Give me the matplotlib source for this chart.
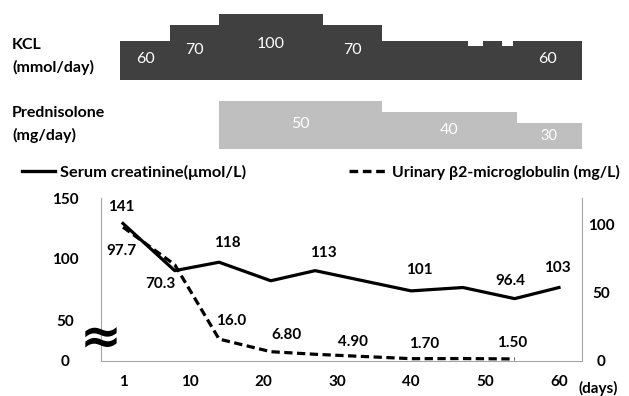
import numpy as np
import matplotlib
matplotlib.use('Agg')
import matplotlib.pyplot as plt
from matplotlib.lines import Line2D

plt.rcParams['font.family'] = ['Lato', 'DejaVu Sans']

# ---- данные ----
# KCL (mmol/day): начало каждого участка (дни) и доза
kcl_start = [0.6, 7.4, 14, 28, 36, 47.7, 49.7, 52.3, 53.8]
kcl_end = 63.1
kcl_dose = [60, 70, 100, 70, 60, 50, 60, 50, 60]
kcl_text = ['60', '70', '100', '70', '', '', '', '', '60']

# Prednisolone (mg/day)
pred_start = [14, 36, 54.3]
pred_end = 63.1
pred_dose = [50, 40, 30]
pred_text = ['50', '40', '30']

# креатинин сыворотки (umol/L)
cr_days = [1, 8, 14, 21, 27, 40, 47, 54, 60]
cr_vals = [141, 113, 118, 107, 113, 101, 103, 96.4, 103]
cr_text = ['141', '', '118', '', '113', '101', '', '96.4', '103']

# бета2-микроглобулин в моче (mg/L)
b2_days = [1, 8, 14, 21, 27, 40, 47, 54]
b2_vals = [97.7, 70.3, 16.0, 6.80, 4.90, 1.70, 1.8, 1.50]
b2_text = ['97.7', '70.3', '16.0', '6.80', '4.90', '1.70', '', '1.50']

x_ticks = [1, 10, 20, 30, 40, 50, 60]
left_ticks = [0, 50, 100, 150]
right_ticks = [0, 50, 100]

# смещения подписей (pt)
cr_off = [(-1, 12), (0, 0), (6, 14), (0, 0), (6, 13), (6, 15), (0, 0), (-3, 13), (-1, 14)]
b2_off = [(-1, -17), (-10, -14), (9, 13), (11, 12), (27, 9), (9, 10.5), (0, 0), (-2, 11.5)]

W, H = 629, 396
fig = plt.figure(figsize=(W / 100, H / 100), dpi=100)


def rect(x0, y0, x1, y1):
    # пиксели картинки -> доли фигуры
    return [x0 / W, 1 - y1 / H, (x1 - x0) / W, (y1 - y0) / H]


XLIM = (1 - 22 / 7.39, 60 + 23 / 7.39)
DARK = '#404040'
LIGHT = '#bfbfbf'
SPINE = '#a6a6a6'
B2_PX = 1.37  # пикселей на 1 mg/L

# ---- верх: ступеньки KCL ----
ax_k = fig.add_axes(rect(101, 10, 582, 80))
kx = [-100, 0, 50, 60, 70, 100, 200]
ky = [-100, 0, 34, 39, 55, 66, 166]
ax_k.set_yscale('function', functions=(lambda v: np.interp(v, kx, ky),
                                       lambda p: np.interp(p, ky, kx)))
ax_k.fill_between(kcl_start + [kcl_end], kcl_dose + [kcl_dose[-1]], 0,
                  step='post', color=DARK, linewidth=0)
ax_k.set_xlim(XLIM)
ax_k.set_ylim(0, 104)
for s, e, d, t in zip(kcl_start, kcl_start[1:] + [kcl_end], kcl_dose, kcl_text):
    if t:
        ymid = np.interp(np.interp(d, kx, ky) * 0.55, ky, kx)
        ax_k.text((s + e) / 2, ymid, t, color='white', fontsize=11.5,
                  ha='center', va='center')
ax_k.axis('off')

# ---- верх: преднизолон ----
ax_p = fig.add_axes(rect(101, 95, 582, 148))
ax_p.fill_between(pred_start + [pred_end], pred_dose + [pred_dose[-1]], 0,
                  step='post', color=LIGHT, linewidth=0)
ax_p.set_xlim(XLIM)
ax_p.set_ylim(8 / 1.1, 61 / 1.1)
for s, e, d, t, fs in zip(pred_start, pred_start[1:] + [pred_end], pred_dose, pred_text, [11.5, 11.5, 10.5]):
    ax_p.text((s + e) / 2, 8 / 1.1 + (d - 8 / 1.1) * 0.5, t, color='white',
              fontsize=fs, ha='center', va='center')
ax_p.axis('off')

fig.text(12 / W, 1 - 45 / H, 'KCL', fontsize=11.5, fontweight='bold', va='center')
fig.text(12 / W, 1 - 67 / H, '(mmol/day)', fontsize=11.5, fontweight='bold', va='center')
fig.text(12 / W, 1 - 113 / H, 'Prednisolone', fontsize=11.5, fontweight='bold', va='center')
fig.text(12 / W, 1 - 135 / H, '(mg/day)', fontsize=11.5, fontweight='bold', va='center')

# ---- низ: оси ----
ax = fig.add_axes(rect(101, 198, 582, 361))
lx = [-100, 0, 50, 100, 150, 300]
ly = [-100, 0, 41, 102, 163, 346]
ax.set_yscale('function', functions=(lambda v: np.interp(v, lx, ly),
                                     lambda p: np.interp(p, ly, lx)))
ax.set_ylim(0, 150)
ax.set_xlim(XLIM)
ax.set_yticks(left_ticks)
ax.set_yticklabels([str(t) for t in left_ticks])
ax.set_xticks(x_ticks)
ax.set_xticklabels([str(t) for t in x_ticks])
ax.tick_params(axis='y', length=0, pad=26, labelsize=11)
ax.tick_params(axis='x', length=0, pad=10, labelsize=11)
for lbl in ax.get_yticklabels() + ax.get_xticklabels():
    lbl.set_fontweight('bold')
for lbl in ax.get_yticklabels():
    lbl.set_ha('center')
ax.spines['top'].set_visible(False)
ax.spines['right'].set_visible(False)
ax.spines['left'].set_color(SPINE)
ax.spines['bottom'].set_color(SPINE)

# креатинин на своей (скрытой) шкале
ax_cr = ax.twinx()
ax_cr.set_ylim(59.4, 156.1)
ax_cr.axis('off')
ax_cr.plot(cr_days, cr_vals, color='black', linewidth=2.3)
for d, v, t, o in zip(cr_days, cr_vals, cr_text, cr_off):
    if t:
        ax_cr.annotate(t, (d, v), xytext=o, textcoords='offset points',
                       ha='center', va='center', fontsize=11, fontweight='bold')

# b2-микроглобулин: правая ось
ax_b2 = ax.twinx()
ax_b2.set_ylim(0, 163 / B2_PX)
ax_b2.set_xlim(XLIM)
ax_b2.plot(b2_days, b2_vals, color='black', linewidth=2.3, linestyle=(0, (2.6, 1.4)))
for d, v, t, o in zip(b2_days, b2_vals, b2_text, b2_off):
    if t:
        ax_b2.annotate(t, (d, v), xytext=o, textcoords='offset points',
                       ha='center', va='center', fontsize=11, fontweight='bold')
ax_b2.set_yticks(right_ticks)
ax_b2.tick_params(axis='y', length=0, pad=14, labelsize=11)
for lbl in ax_b2.get_yticklabels():
    lbl.set_fontweight('bold')
    lbl.set_ha('center')
ax_b2.spines['top'].set_visible(False)
ax_b2.spines['left'].set_visible(False)
ax_b2.spines['bottom'].set_visible(False)
ax_b2.spines['right'].set_color(SPINE)

# значок разрыва оси
fig.text(101 / W, 1 - 339 / H, '\u2248', fontsize=36, fontweight='bold',
         family='DejaVu Sans', ha='center', va='center')

fig.text(598 / W, 1 - 388 / H, '(days)', fontsize=11, fontweight='bold',
         ha='center', va='center')

# легенда вручную
fig.add_artist(Line2D([22 / W, 55 / W], [1 - 171 / H] * 2, color='black', linewidth=2.4))
fig.text(60 / W, 1 - 172 / H, 'Serum creatinine(\u03bcmol/L)', fontsize=11.8,
         fontweight='bold', va='center')
fig.add_artist(Line2D([349 / W, 385 / W], [1 - 171 / H] * 2, color='black', linewidth=2.4,
                      linestyle=(0, (2.6, 1.4))))
fig.text(392 / W, 1 - 172 / H, 'Urinary \u03b22-microglobulin (mg/L)', fontsize=11.4,
         fontweight='bold', va='center')

fig.savefig('out.png', dpi=100)
